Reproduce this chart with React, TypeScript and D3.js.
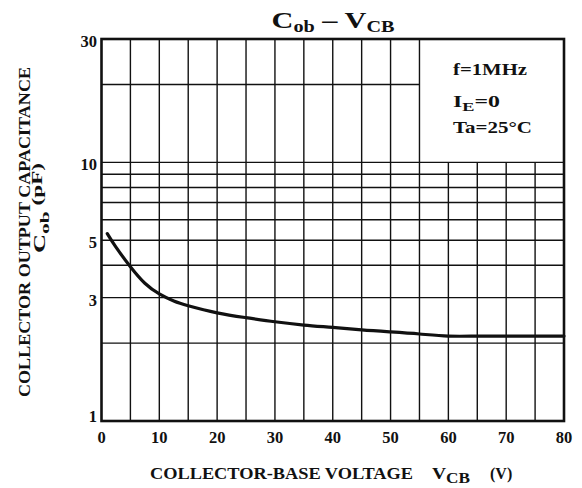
import React from 'react';
import * as d3 from 'd3';

// ---- data ----
const voltages = [1, 2.5, 5, 7.5, 10, 12.5, 15, 20, 25, 30, 35, 40, 45, 50, 55, 60, 65, 70, 75, 80];
const capacitance = [5.3, 4.7, 3.95, 3.41, 3.1, 2.91, 2.79, 2.62, 2.51, 2.42, 2.35, 2.3, 2.25, 2.21, 2.17, 2.13, 2.13, 2.13, 2.13, 2.13];
const xTickLabels = [0, 10, 20, 30, 40, 50, 60, 70, 80];
const yTickLabels = [1, 3, 5, 10, 30];
const xGridValues = [5, 10, 15, 20, 25, 30, 35, 40, 45, 50, 55, 60, 65, 70, 75];
const yGridValues = [2, 3, 4, 5, 6, 7, 8, 9, 10, 20];
const boxX0 = 55; // legend box region (x from 55 to 80, y from 10 to 30)
const boxY0 = 10;

const FONT = '"Liberation Serif", "DejaVu Serif", serif';

export default function App() {
  const x = d3.scaleLinear().domain([0, 80]).range([101.5, 564]);
  const y = d3.scaleLog().domain([1, 30]).range([421, 39]);

  const line = d3
    .line<number>()
    .x((_, i) => x(voltages[i]))
    .y((d) => y(d))
    .curve(d3.curveNatural);

  const [x0, x1] = x.range();
  const [yb, yt] = y.range();

  return (
    <svg
      width={582}
      height={488}
      style={{ position: 'absolute', left: 0, top: 0, background: '#fff' }}
      fontFamily={FONT}
      fontWeight="bold"
      fill="#111"
    >
      {/* title */}
      <text x={333} y={28} fontSize={24} textAnchor="middle" textLength={123} lengthAdjust="spacingAndGlyphs">
        <tspan>C</tspan>
        <tspan fontSize={16} dy={4}>ob</tspan>
        <tspan dy={-4}>{'  –  '}</tspan>
        <tspan>V</tspan>
        <tspan fontSize={16} dy={4}>CB</tspan>
      </text>

      {/* grid */}
      <g stroke="#111" strokeWidth={1.4}>
        {xGridValues.map((v) => (
          <line key={'vx' + v} x1={x(v)} x2={x(v)} y1={yb} y2={v > boxX0 ? y(boxY0) : yt} />
        ))}
        {yGridValues.map((v) => (
          <line key={'hy' + v} x1={x0} x2={v > boxY0 ? x(boxX0) : x1} y1={y(v)} y2={y(v)} />
        ))}
      </g>

      {/* frame */}
      <rect x={x0} y={yt} width={x1 - x0} height={yb - yt} fill="none" stroke="#111" strokeWidth={2.6} />

      {/* curve */}
      <path d={line(capacitance) || ''} fill="none" stroke="#111" strokeWidth={3.2} strokeLinecap="round" />

      {/* y tick labels */}
      {yTickLabels.map((v) => (
        <text key={'yl' + v} x={97} y={y(v) + (v === 1 ? 1 : 8)} fontSize={16.5} textAnchor="end">
          {v}
        </text>
      ))}

      {/* x tick labels */}
      {xTickLabels.map((v) => (
        <text key={'xl' + v} x={x(v)} y={443} fontSize={16.5} textAnchor="middle">
          {v}
        </text>
      ))}

      {/* legend */}
      <text x={453} y={75} fontSize={17} textLength={74} lengthAdjust="spacingAndGlyphs">
        f=1MHz
      </text>
      <text x={453} y={107} fontSize={17} textLength={47} lengthAdjust="spacingAndGlyphs">
        <tspan>I</tspan>
        <tspan fontSize={13} dy={4}>E</tspan>
        <tspan dy={-4}>=0</tspan>
      </text>
      <text x={453} y={133} fontSize={17} textLength={79} lengthAdjust="spacingAndGlyphs">
        Ta=25°C
      </text>

      {/* x axis title */}
      <text x={150} y={479} fontSize={16} textLength={263} lengthAdjust="spacingAndGlyphs">
        COLLECTOR-BASE VOLTAGE
      </text>
      <text x={432} y={479} fontSize={17} textLength={38} lengthAdjust="spacingAndGlyphs">
        <tspan>V</tspan>
        <tspan fontSize={15} dy={4}>CB</tspan>
      </text>
      <text x={490} y={479} fontSize={16}>
        (V)
      </text>

      {/* y axis title */}
      <text
        transform="translate(30,232) rotate(-90)"
        fontSize={16.5}
        textAnchor="middle"
        textLength={330}
        lengthAdjust="spacingAndGlyphs"
      >
        COLLECTOR OUTPUT CAPACITANCE
      </text>
      <text
        transform="translate(45,208) rotate(-90)"
        fontSize={16}
        textAnchor="middle"
        textLength={90}
        lengthAdjust="spacingAndGlyphs"
      >
        <tspan>C</tspan>
        <tspan fontSize={13} dy={4}>ob</tspan>
        <tspan fontSize={14} dy={-7}>{'   (pF)'}</tspan>
      </text>
    </svg>
  );
}
